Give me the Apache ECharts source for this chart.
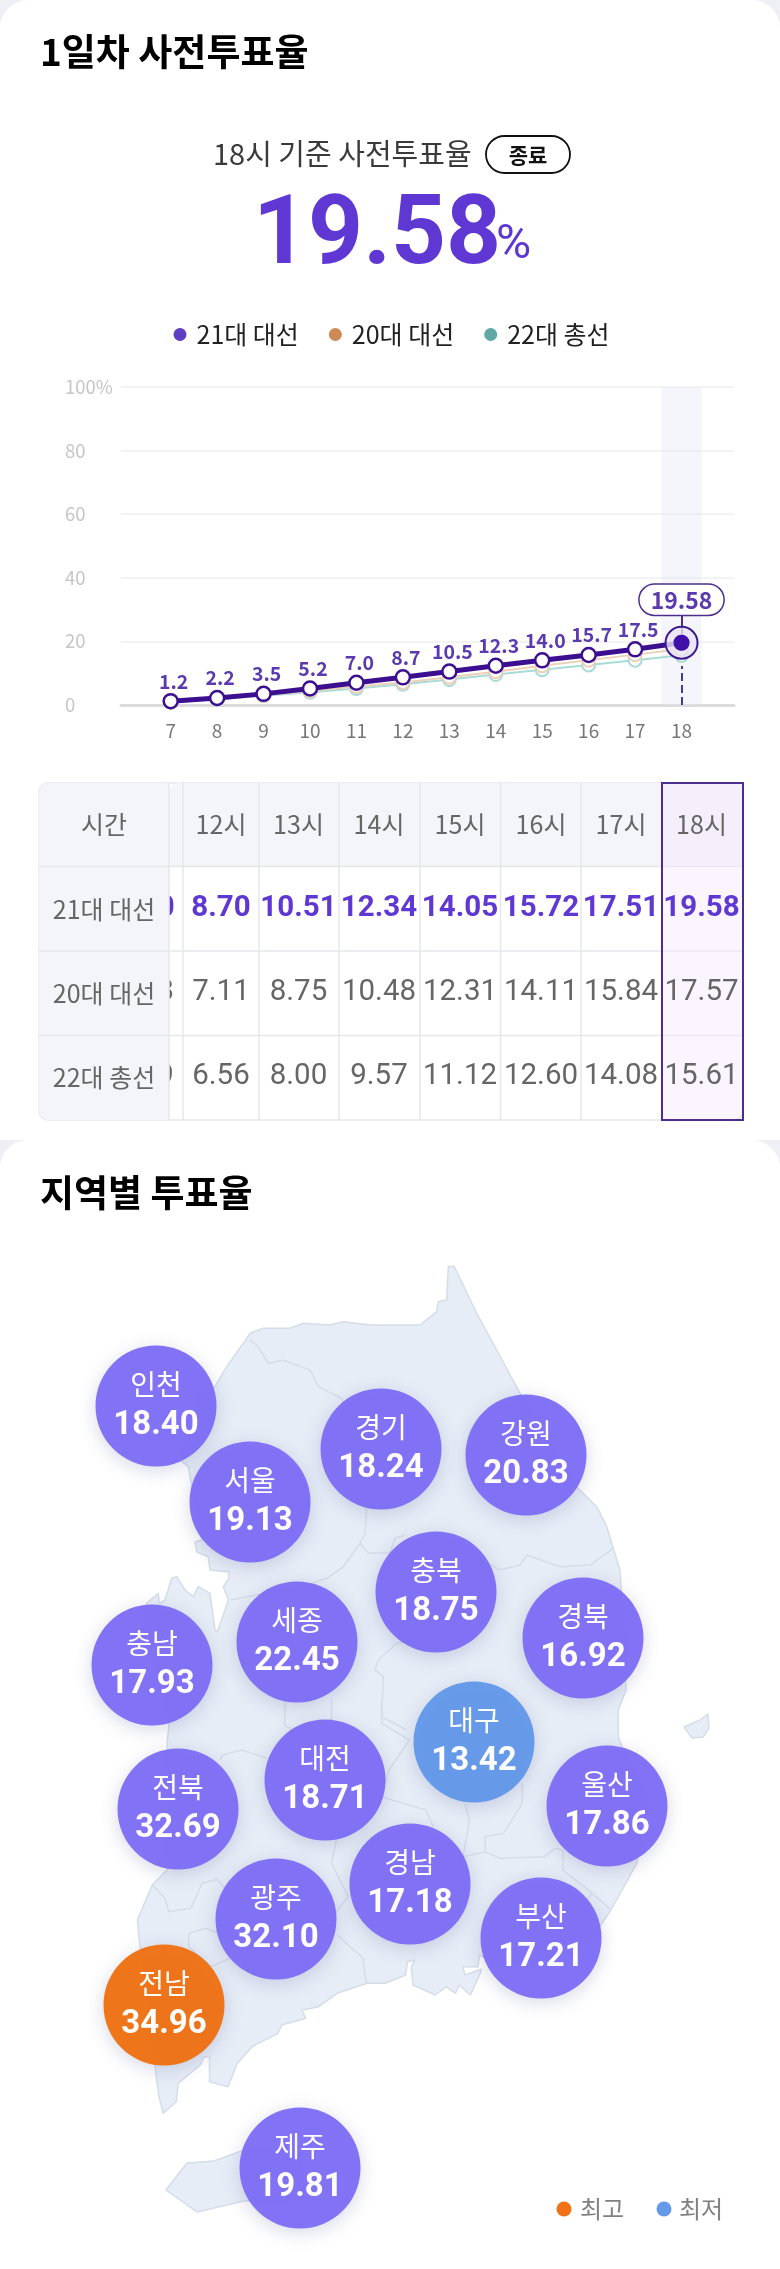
<!DOCTYPE html>
<html>
<head>
<meta charset="utf-8">
<style>html,body{margin:0;padding:0;background:#fff}#chart{width:780px;height:2269px}</style>
<script src="https://cdn.jsdelivr.net/npm/echarts@6/dist/echarts.min.js"></script>
</head>
<body>
<div id="chart"></div>
<script>
// turnout by hour
const hours = [7, 8, 9, 10, 11, 12, 13, 14, 15, 16, 17, 18]
const pointLabels = ['1.2', '2.2', '3.5', '5.2', '7.0', '8.7', '10.5', '12.3', '14.0', '15.7', '17.5', '']
const votes21 = [1.2, 2.2, 3.5, 5.2, 7.00, 8.70, 10.51, 12.34, 14.05, 15.72, 17.51, 19.58]
const votes20 = [0.9, 1.9, 3.1, 4.4, 5.78, 7.11, 8.75, 10.48, 12.31, 14.11, 15.84, 17.57]
const votes22 = [0.9, 1.8, 2.9, 4.0, 5.19, 6.56, 8.00, 9.57, 11.12, 12.60, 14.08, 15.61]
const seriesNames = ['21대 대선', '20대 대선', '22대 총선']
const yTicks = [0, 20, 40, 60, 80, 100]

// turnout by region
const regions = ['인천', '서울', '경기', '강원', '충북', '경북', '세종', '충남', '대구', '대전', '전북', '울산', '경남', '광주', '부산', '전남', '제주']
const regionVotes = [18.40, 19.13, 18.24, 20.83, 18.75, 16.92, 22.45, 17.93, 13.42, 18.71, 32.69, 17.86, 17.18, 32.10, 17.21, 34.96, 19.81]
// bubble spots on the map
const regionSpots = [[156, 1406], [250, 1502], [381, 1449], [526, 1455], [436, 1592], [583, 1638], [297, 1642], [152, 1665], [474, 1742], [325, 1780], [178, 1809], [607, 1806], [410, 1884], [276, 1919], [541, 1938], [164, 2005], [300, 2168]]

const PURPLE = '#5f38d4'
const FONT = '"Noto Sans CJK KR", "Noto Sans", sans-serif'

// map outline: crop a = 3x at (130,1250), crop b = 2.703x/3x at (130,1700)
const a = pts => pts.map(p => [130 + p[0] / 3, 1250 + p[1] / 3])
const b = pts => pts.map(p => [130 + p[0] / 2.703, 1700 + p[1] / 3])
const mainland = [].concat(
    a([[955, 50], [972, 48], [1040, 190], [1100, 300], [1170, 430], [1340, 710], [1400, 770], [1430, 830], [1470, 960], [1478, 1100], [1488, 1320]]),
    b([[1320, 30], [1320, 110], [1330, 140], [1400, 300], [1370, 490], [1335, 560], [1300, 630], [1270, 680], [1200, 760], [1000, 800], [945, 765], [940, 800], [900, 800], [905, 825], [950, 808], [945, 825], [920, 885], [890, 855], [880, 880], [855, 860], [825, 885], [765, 855], [760, 800], [770, 780], [750, 785], [745, 825], [690, 850], [640, 850], [560, 880], [510, 920], [465, 930], [475, 955], [410, 975], [400, 1000], [330, 1040], [290, 1090], [265, 1160], [215, 1145], [215, 1070], [200, 1070], [190, 1095], [130, 1150], [125, 1205], [90, 1240], [78, 1190], [70, 1120], [60, 1000], [25, 720], [20, 660], [60, 555], [100, 510], [110, 300], [100, 130], [105, 80]]),
    a([[100, 1300], [30, 1150], [50, 1060], [85, 1030], [88, 1060], [105, 1050], [125, 985], [140, 980], [165, 1020], [190, 1040], [205, 1010], [240, 1030], [255, 1140], [262, 1145], [285, 1080], [295, 1050], [280, 1010], [297, 985], [295, 965], [240, 960], [235, 920], [200, 905], [195, 875], [215, 870], [175, 650], [150, 630], [205, 500], [205, 440], [255, 410], [290, 350], [340, 280], [360, 250], [400, 235], [480, 235], [520, 220], [600, 225], [640, 215], [720, 225], [870, 225], [920, 185], [925, 155], [950, 150]])
)
const islands = [
    [[684, 1727], [700, 1720], [708, 1714], [709, 1728], [703, 1737], [692, 1738]],
    [[166, 2190], [187, 2163], [214, 2161], [244, 2150], [300, 2150], [305, 2200], [244, 2201], [197, 2212]],
]
const borders = [
    a([[360, 270], [385, 290], [415, 340], [460, 330], [540, 360], [565, 410], [635, 445], [700, 600], [710, 780], [705, 850], [690, 880], [715, 910], [780, 908], [795, 865], [825, 855]]),
    a([[690, 880], [640, 950], [590, 985], [545, 1000], [430, 1025], [300, 1050]]),
    a([[1000, 900], [1110, 960], [1170, 945], [1190, 915], [1290, 950], [1380, 945], [1450, 895]]),
    a([[1000, 1150], [800, 1180], [745, 1230], [735, 1260], [760, 1280], [755, 1400], [830, 1440]]),
    b([[420, 0], [418, 75], [440, 90], [545, 60], [545, 0]]),
    b([[680, 0], [680, 70], [755, 120], [700, 210], [680, 290], [800, 330], [820, 380]]),
    b([[905, 310], [918, 360], [900, 470], [960, 455], [1000, 475], [1120, 470], [1150, 445], [1170, 450], [1170, 510], [1250, 580], [1300, 630]]),
    b([[960, 455], [960, 410], [1010, 400], [1060, 310], [1060, 250]]),
    b([[245, 180], [250, 165], [300, 150], [370, 175]]),
    b([[60, 555], [95, 595], [105, 635], [165, 625], [195, 550], [235, 538], [265, 575]]),
    b([[240, 700], [205, 685], [160, 700], [158, 740], [220, 800], [270, 775]]),
    b([[560, 705], [630, 775], [635, 825], [640, 850]]),
    b([[558, 420], [545, 490], [590, 590], [555, 640]]),
    b([[1250, 580], [1200, 640]]),
]
const toPoints = pts => pts.map(p => p[0].toFixed(1) + ',' + p[1].toFixed(1)).join(' ')
const landStyle = 'fill="#e7edf6" stroke="#d5dde8" stroke-width="1.5" stroke-linejoin="round"'
const mapSvg = '<svg xmlns="http://www.w3.org/2000/svg" width="780" height="2269" viewBox="0 0 780 2269">'
    + [mainland].concat(islands).map(p => '<polygon points="' + toPoints(p) + '" ' + landStyle + '/>').join('')
    + borders.map(p => '<polyline points="' + toPoints(p) + '" fill="none" stroke="#d5dde8" stroke-width="1.5"/>').join('')
    + '</svg>'
echarts.registerMap('korea', {svg: mapSvg})

// small helpers for the page parts around the charts
const txt = (text, x, y, font, fill, align) => ({
    type: 'text', x, y, z: 5, silent: true,
    style: {text, font, fill, align: align || 'center', verticalAlign: 'middle'}
})
const box = (x, y, width, height, r, fill, stroke, lineWidth, z) => ({
    type: 'rect', z: z === undefined ? 3 : z, silent: true,
    shape: {x, y, width, height, r},
    style: {fill, stroke: stroke || null, lineWidth: lineWidth || 0}
})
const vline = (x, y1, y2, z) => ({
    type: 'line', z: z === undefined ? 4 : z, silent: true,
    shape: {x1: x, y1, x2: x, y2}, style: {stroke: '#e6e7eb', lineWidth: 1.5}
})
const hline = (x1, x2, y) => ({
    type: 'line', z: 4, silent: true,
    shape: {x1, y1: y, x2, y2: y}, style: {stroke: '#e6e7eb', lineWidth: 1.5}
})

// table
const tableHours = hours.slice(4).map(h => h + '시')
const tableRows = [votes21.slice(4), votes20.slice(4), votes22.slice(4)]
const colX = [145, 221, 298.5, 379, 460, 541, 621, 701.5]
const colLines = [183, 259, 339, 420, 500.5, 581, 662]
const rowY = [824, 909, 993, 1077]
const rowLines = [866.5, 951, 1035.5]
const tableParts = [
    box(39, 783, 704, 337, 9, '#fff', '#e6e7eb', 1.5, 1),
    box(169, 783, 574, 84, [9, 9, 0, 0], '#f4f5f9', null, 0, 2),
]
colLines.forEach(x => tableParts.push(vline(x, 783, 1120)))
rowLines.forEach(y => tableParts.push(hline(39, 743, y)))
tableParts.push(box(662, 783, 81, 337, 0, 'rgba(243,232,252,0.45)', '#4b2e8e', 2, 4))
tableHours.forEach((h, i) => tableParts.push(txt(h, colX[i], rowY[0], '25px ' + FONT, '#666')))
tableRows.forEach((row, r) => row.forEach((v, i) => {
    const font = (r === 0 ? 'bold' : 'normal') + ' 29.5px Roboto'
    tableParts.push(txt(v.toFixed(2), colX[i], rowY[r + 1], font, r === 0 ? PURPLE : '#666'))
}))
// the sticky first column hides the 11시 column that is scrolled under it
const stickyZ = 6
tableParts.push(box(39, 783, 130, 337, [9, 0, 0, 9], '#f4f5f9', null, 0, stickyZ))
tableParts.push(Object.assign(vline(169, 783, 1120), {z: stickyZ}))
tableParts.push(Object.assign(hline(39, 169, rowLines[0]), {z: stickyZ}))
tableParts.push(Object.assign(hline(39, 169, rowLines[1]), {z: stickyZ}))
tableParts.push(Object.assign(hline(39, 169, rowLines[2]), {z: stickyZ}))
const rowHeads = ['시간'].concat(seriesNames)
rowHeads.forEach((h, i) => tableParts.push(Object.assign(txt(h, 104, rowY[i], '25px ' + FONT, '#666'), {z: stickyZ + 1})))

const chart = echarts.init(document.getElementById('chart'))
chart.setOption({
    animation: false,
    backgroundColor: '#eef0f5',
    textStyle: {fontFamily: FONT},
    graphic: {elements: [
        box(0, 0, 780, 1140, [28, 28, 0, 0], '#fff', null, 0, -10),
        box(0, 1140, 780, 1129, [28, 28, 0, 0], '#fff', null, 0, -10),
        txt('1일차 사전투표율', 40, 52, 'bold 37px ' + FONT, '#000', 'left'),
        txt('18시 기준 사전투표율', 213, 154, '29px ' + FONT, '#3a3a3a', 'left'),
        box(486, 136, 84, 37, 18.5, '#fff', '#111', 1.8),
        txt('종료', 528, 155, 'bold 21px ' + FONT, '#111'),
        txt('19.58', 253, 239, 'bold 96px Roboto', PURPLE, 'left'),
        txt('%', 496, 246, '48px Roboto', PURPLE, 'left'),
        txt('지역별 투표율', 40, 1193, 'bold 37px ' + FONT, '#000', 'left'),
    ].concat(tableParts, [
        {type: 'circle', z: 5, silent: true, shape: {cx: 564, cy: 2209, r: 7.5}, style: {fill: '#ef7216'}},
        txt('최고', 580, 2209, '24px ' + FONT, '#808080', 'left'),
        {type: 'circle', z: 5, silent: true, shape: {cx: 664, cy: 2209, r: 7.5}, style: {fill: '#6499e9'}},
        txt('최저', 679, 2209, '24px ' + FONT, '#808080', 'left'),
    ])},
    legend: {
        left: 168.5,
        top: 317,
        icon: 'circle',
        itemWidth: 13,
        itemHeight: 13,
        itemGap: 30,
        selectedMode: false,
        textStyle: {fontSize: 25, color: '#222', padding: [0, 0, 0, 5], fontFamily: FONT},
        data: [
            {name: seriesNames[0], itemStyle: {color: '#5f3dc4', borderWidth: 0}, lineStyle: {width: 0}},
            {name: seriesNames[1], itemStyle: {color: '#cc8a55', borderWidth: 0}, lineStyle: {width: 0}},
            {name: seriesNames[2], itemStyle: {color: '#5fa8a6', borderWidth: 0}, lineStyle: {width: 0}},
        ]
    },
    grid: {left: 121, right: 46, top: 387, bottom: 1564},
    xAxis: {
        type: 'value',
        min: 5.93,
        max: 19.13,
        splitLine: {show: false},
        axisTick: {show: false},
        axisLine: {show: true, onZero: false, lineStyle: {color: '#dcdcdc', width: 3}},
        axisLabel: {customValues: hours, margin: 16, fontSize: 19, color: '#777'}
    },
    yAxis: {
        type: 'value',
        min: yTicks[0],
        max: yTicks[yTicks.length - 1],
        interval: 20,
        axisLine: {show: false},
        axisTick: {show: false},
        splitLine: {lineStyle: {color: '#f3f3f3', width: 2}},
        axisLabel: {
            margin: 56,
            align: 'left',
            fontSize: 18.5,
            color: '#c6c6c6',
            formatter: v => v === 100 ? '100%' : v
        }
    },
    geo: {
        map: 'korea',
        left: 0,
        top: 0,
        width: 780,
        height: 2269,
        roam: false,
        silent: true,
        z: 1
    },
    series: [
        {
            name: seriesNames[2],
            type: 'line',
            z: 3,
            symbol: 'circle',
            symbolSize: 13,
            showAllSymbol: true,
            data: hours.map((h, i) => [h, votes22[i]]),
            lineStyle: {color: '#a9dcd6', width: 2},
            itemStyle: {color: '#fff', borderColor: '#a9dcd6', borderWidth: 2}
        },
        {
            name: seriesNames[1],
            type: 'line',
            z: 4,
            symbol: 'circle',
            symbolSize: 13,
            showAllSymbol: true,
            data: hours.map((h, i) => [h, votes20[i]]),
            lineStyle: {color: '#ecd0b8', width: 2},
            itemStyle: {color: '#fff', borderColor: '#ecd0b8', borderWidth: 2}
        },
        {
            name: seriesNames[0],
            type: 'line',
            z: 5,
            symbol: 'circle',
            symbolSize: 14,
            showAllSymbol: true,
            data: hours.map((h, i) => [h, votes21[i]]),
            lineStyle: {color: '#3c0f90', width: 5},
            itemStyle: {color: '#fff', borderColor: '#3c0f90', borderWidth: 2.5},
            label: {
                show: true,
                position: 'top',
                distance: 2,
                offset: [3, 0],
                fontSize: 19.5,
                fontWeight: 'bold',
                color: '#5a3aae',
                formatter: p => pointLabels[p.dataIndex]
            },
            markArea: {
                silent: true,
                itemStyle: {color: 'rgba(225,225,245,0.35)'},
                data: [[{xAxis: 17.57}, {xAxis: 18.43}]]
            },
            markLine: {
                silent: true,
                symbol: 'none',
                label: {show: false},
                data: [
                    [{coord: [18, 0], lineStyle: {type: 'dashed', color: '#4a3a96', width: 2}}, {coord: [18, 12.3]}],
                    [{coord: [18, 19.58], lineStyle: {type: 'solid', color: '#4b2e8e', width: 2}}, {coord: [18, 28.6]}],
                ]
            }
        },
        {
            // highlighted last hour
            type: 'scatter',
            z: 6,
            silent: true,
            symbolSize: 32,
            data: [[hours[hours.length - 1], votes21[votes21.length - 1]]],
            itemStyle: {opacity: 1, color: 'rgba(232,228,247,0.8)', borderColor: '#3c1a8c', borderWidth: 2},
            label: {
                show: true,
                position: 'top',
                distance: 11,
                formatter: p => p.value[1].toFixed(2),
                fontSize: 23,
                fontWeight: 'bold',
                color: '#5a3aae',
                backgroundColor: '#fff',
                borderColor: '#4b2e8e',
                borderWidth: 1.5,
                borderRadius: 16,
                padding: [4, 11, 3, 11]
            }
        },
        {
            type: 'scatter',
            z: 7,
            silent: true,
            symbolSize: 16,
            data: [[hours[hours.length - 1], votes21[votes21.length - 1]]],
            itemStyle: {opacity: 1, color: '#3f0fa8'}
        },
        {
            // region bubbles
            type: 'scatter',
            coordinateSystem: 'geo',
            geoIndex: 0,
            z: 8,
            silent: true,
            symbolSize: 121,
            data: regions.map((name, i) => {
                const v = regionVotes[i]
                let color = '#806ff5'
                if (v === Math.max(...regionVotes)) color = '#ef7216'
                if (v === Math.min(...regionVotes)) color = '#6499e9'
                return {name, value: regionSpots[i].concat(v), itemStyle: {color}}
            }),
            itemStyle: {opacity: 0.98, shadowBlur: 18, shadowColor: 'rgba(70,80,150,0.22)', shadowOffsetY: 4},
            label: {
                show: true,
                position: 'inside',
                formatter: p => '{n|' + p.name + '}\n{v|' + p.value[2].toFixed(2) + '}',
                rich: {
                    n: {fontSize: 28, color: '#fff', lineHeight: 39, fontFamily: FONT},
                    v: {fontSize: 33, color: '#fff', fontWeight: 'bold', lineHeight: 43, fontFamily: 'Roboto'}
                }
            }
        }
    ]
})
</script>
</body>
</html>
